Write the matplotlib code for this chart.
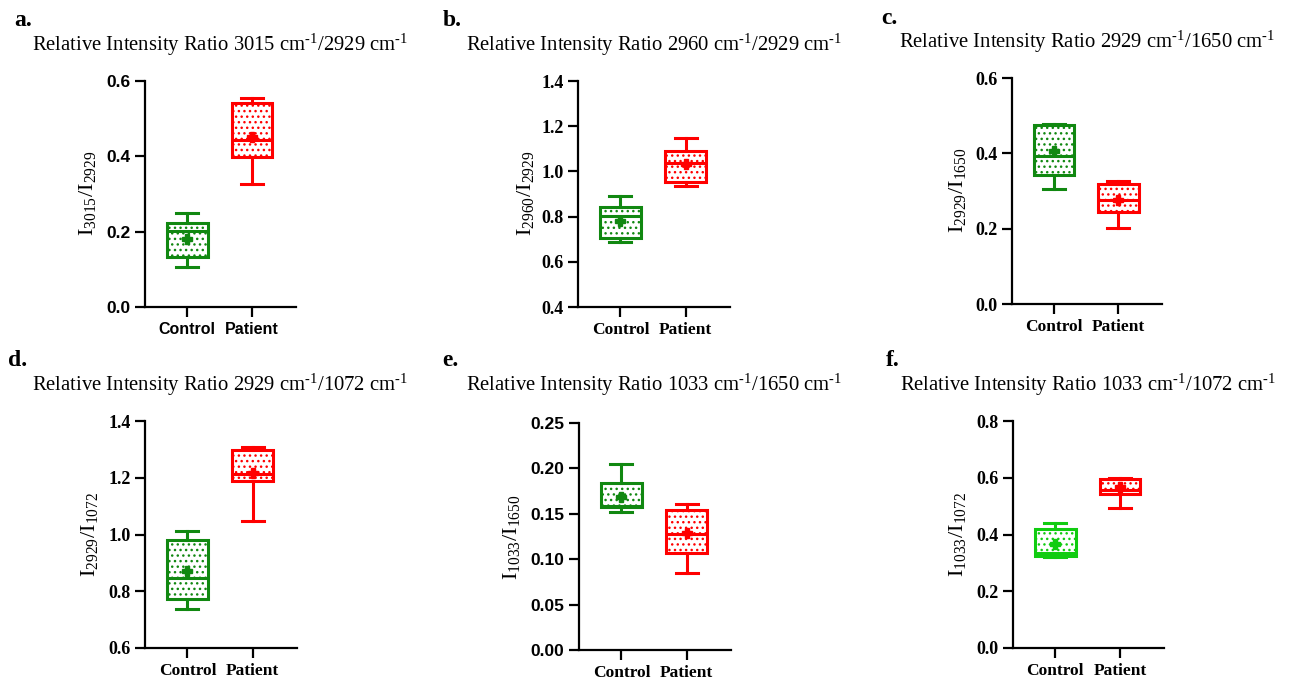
import matplotlib
matplotlib.use("Agg")
import matplotlib.pyplot as plt
import numpy as np

plt.rcParams["mathtext.fontset"] = "custom"
plt.rcParams["mathtext.rm"] = "Liberation Serif"
plt.rcParams["mathtext.it"] = "Liberation Serif:italic"
plt.rcParams["hatch.linewidth"] = 1.0

# panel texts
PANEL_TAGS = ["a.", "b.", "c.", "d.", "e.", "f."]
TITLES = [
    "Relative Intensity Ratio 3015 cm$^{\u20101}$/2929 cm$^{\u20101}$",
    "Relative Intensity Ratio 2960 cm$^{\u20101}$/2929 cm$^{\u20101}$",
    "Relative Intensity Ratio 2929 cm$^{\u20101}$/1650 cm$^{\u20101}$",
    "Relative Intensity Ratio 2929 cm$^{\u20101}$/1072 cm$^{\u20101}$",
    "Relative Intensity Ratio 1033 cm$^{\u20101}$/1650 cm$^{\u20101}$",
    "Relative Intensity Ratio 1033 cm$^{\u20101}$/1072 cm$^{\u20101}$",
]
YLABELS = [
    r"$\mathrm{I}_{3015}/\mathrm{I}_{2929}$",
    r"$\mathrm{I}_{2960}/\mathrm{I}_{2929}$",
    r"$\mathrm{I}_{2929}/\mathrm{I}_{1650}$",
    r"$\mathrm{I}_{2929}/\mathrm{I}_{1072}$",
    r"$\mathrm{I}_{1033}/\mathrm{I}_{1650}$",
    r"$\mathrm{I}_{1033}/\mathrm{I}_{1072}$",
]
GROUPS = ["Control", "Patient"]

# box statistics, one value per panel a-f
CONTROL_MIN = [0.105, 0.688, 0.304, 0.737, 0.152, 0.319]
CONTROL_Q1 = [0.132, 0.705, 0.342, 0.772, 0.157, 0.324]
CONTROL_MED = [0.202, 0.803, 0.394, 0.847, 0.159, 0.335]
CONTROL_Q3 = [0.222, 0.844, 0.474, 0.979, 0.184, 0.418]
CONTROL_MAX = [0.250, 0.893, 0.479, 1.014, 0.205, 0.440]
CONTROL_MEAN = [0.180, 0.780, 0.405, 0.870, 0.169, 0.366]

PATIENT_MIN = [0.326, 0.935, 0.203, 1.046, 0.085, 0.492]
PATIENT_Q1 = [0.399, 0.952, 0.243, 1.187, 0.107, 0.541]
PATIENT_MED = [0.443, 1.036, 0.277, 1.212, 0.128, 0.556]
PATIENT_Q3 = [0.541, 1.092, 0.319, 1.298, 0.154, 0.594]
PATIENT_MAX = [0.554, 1.149, 0.326, 1.307, 0.161, 0.599]
PATIENT_MEAN = [0.452, 1.033, 0.277, 1.218, 0.129, 0.568]

# y ticks per panel
Y_TICKS = [
    [0.0, 0.2, 0.4, 0.6],
    [0.4, 0.6, 0.8, 1.0, 1.2, 1.4],
    [0.0, 0.2, 0.4, 0.6],
    [0.6, 0.8, 1.0, 1.2, 1.4],
    [0.00, 0.05, 0.10, 0.15, 0.20, 0.25],
    [0.0, 0.2, 0.4, 0.6, 0.8],
]
Y_FMT = ["%.1f", "%.1f", "%.1f", "%.1f", "%.2f", "%.1f"]

W, H = 1293, 682
GREEN = "#118811"
LIME = "#11cc11"
RED = "#ff0000"
CONTROL_COLORS = [GREEN, GREEN, GREEN, GREEN, GREEN, LIME]

# layout in pixels: spine x, axis end x, top y, bottom y
AX_PIX = [
    (145, 296, 81, 307),
    (578, 730, 81, 307),
    (1012, 1162, 78, 304),
    (145, 297, 421, 648),
    (579, 731, 423, 650),
    (1013, 1164, 421, 648),
]
TAG_PIX = [(14, 20), (443, 20), (881, 18), (8, 360), (442, 360), (886, 360)]
TITLE_PIX = [(32, 45), (466, 45), (899, 42), (32, 385), (466, 385), (900, 385)]
YLAB_PIX = [(88, 193), (525, 193), (958, 190), (89, 535), (512, 537), (958, 535)]
SANS_TICKS = [True, False, False, False, True, False]
SANS_XLABELS = [True, False, False, False, False, False]

SERIF = "Liberation Serif"
SANS = "Liberation Sans"


def make_stats(i):
    ctrl = dict(whislo=CONTROL_MIN[i], q1=CONTROL_Q1[i], med=CONTROL_MED[i],
                q3=CONTROL_Q3[i], whishi=CONTROL_MAX[i], mean=CONTROL_MEAN[i],
                fliers=[], label=GROUPS[0])
    pat = dict(whislo=PATIENT_MIN[i], q1=PATIENT_Q1[i], med=PATIENT_MED[i],
               q3=PATIENT_Q3[i], whishi=PATIENT_MAX[i], mean=PATIENT_MEAN[i],
               fliers=[], label=GROUPS[1])
    return [ctrl, pat]


fig = plt.figure(figsize=(W / 100, H / 100), dpi=100)

for i in range(6):
    x0, x1, y0, y1 = AX_PIX[i]
    ax = fig.add_axes([x0 / W, 1 - y1 / H, (x1 - x0) / W, (y1 - y0) / H])
    colors = [CONTROL_COLORS[i], RED]
    stats = make_stats(i)
    for pos, st, col in zip([0, 1], stats, colors):
        ax.bxp([st], positions=[pos], widths=0.63, capwidths=0.34,
               showmeans=True, showfliers=False, patch_artist=True,
               boxprops=dict(facecolor="white", edgecolor=col, linewidth=2.2,
                             hatch="..."),
               medianprops=dict(color=col, linewidth=2.2),
               whiskerprops=dict(color=col, linewidth=2.2),
               capprops=dict(color=col, linewidth=2.2),
               meanprops=dict(marker="P", markerfacecolor=col,
                              markeredgecolor=col, markersize=7))

    ticks = Y_TICKS[i]
    ax.set_ylim(ticks[0], ticks[-1])
    ax.set_xlim(-0.65, 1.68)
    ax.set_yticks(ticks)
    ax.set_yticklabels([Y_FMT[i] % t for t in ticks])
    ax.set_xticks([0, 1])
    ax.set_xticklabels(GROUPS)
    for side in ["top", "right"]:
        ax.spines[side].set_visible(False)
    for side in ["left", "bottom"]:
        ax.spines[side].set_linewidth(1.6)
    ax.tick_params(axis="both", length=7, width=1.6, direction="out")
    ax.tick_params(axis="x", pad=4)

    tick_font = SANS if SANS_TICKS[i] else SERIF
    tick_size = 12.5 if SANS_TICKS[i] else 13
    for lab in ax.get_yticklabels():
        lab.set_fontfamily(tick_font)
        lab.set_fontweight("bold")
        lab.set_fontsize(tick_size)
    xfont = SANS if SANS_XLABELS[i] else SERIF
    xsize = 11.5 if SANS_XLABELS[i] else 12.5
    for lab in ax.get_xticklabels():
        lab.set_fontfamily(xfont)
        lab.set_fontweight("bold")
        lab.set_fontsize(xsize)

    tx, ty = TAG_PIX[i]
    fig.text(tx / W, 1 - ty / H, PANEL_TAGS[i], fontsize=17,
             fontweight="bold", family=SERIF, ha="left", va="center")
    tx, ty = TITLE_PIX[i]
    fig.text(tx / W, 1 - ty / H, TITLES[i], fontsize=14.9,
             family=SERIF, ha="left", va="center")
    tx, ty = YLAB_PIX[i]
    fig.text(tx / W, 1 - ty / H, YLABELS[i], fontsize=16,
             rotation=90, ha="center", va="center")

fig.savefig("out.png", dpi=100)
